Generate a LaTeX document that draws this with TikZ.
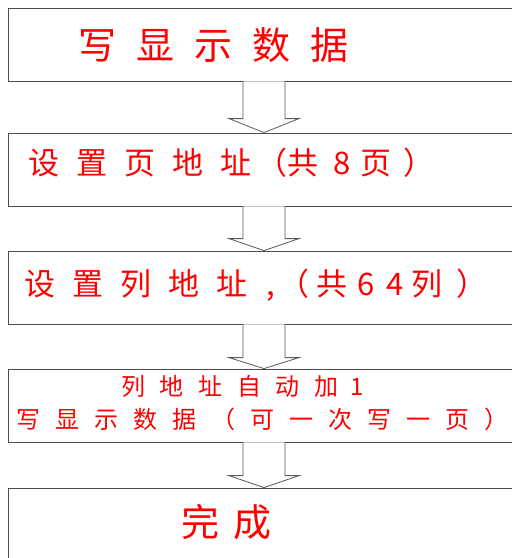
\documentclass[tikz,border=0pt]{standalone}
\usepackage{fontspec}
\newfontfamily\cjk{Noto Sans CJK SC}
\usetikzlibrary{calc}
\newcommand\myg[1]{\hspace{#1pt}}
\tikzset{
  box/.style={draw=black!70, line width=0.8pt, rectangle, minimum width=512pt, inner sep=0pt},
  lbl/.style={anchor=base west, inner sep=0pt, text=red},
  arr/.style={draw=black!65, line width=0.8pt, fill=white, line join=miter},
}
\begin{document}
\begin{tikzpicture}[x=1pt,y=-1pt]
\useasboundingbox (0,0) rectangle (512,558);
\node[box, minimum height=73pt] (b1) at (264,44.5) {};
\node[box, minimum height=73pt] (b2) at (264,169.5) {};
\node[box, minimum height=73pt] (b3) at (264,287.5) {};
\node[box, minimum height=73pt] (b4) at (264,405.5) {};
\node[box, minimum height=110pt] (b5) at (264,543) {};

\node[lbl, font=\cjk\fontsize{38}{40}\selectfont] (t1) at (78,59)
  {写\myg{20}显\myg{20}示\myg{20}数\myg{20}据};
\node[lbl, font=\cjk\fontsize{31}{33}\selectfont] (t2) at (28,174)
  {设\myg{17}置\myg{17}页\myg{17}地\myg{17}址\myg{5}（共\myg{15}8\myg{10}页\myg{12}）};
\node[lbl, font=\cjk\fontsize{31}{33}\selectfont] (t3) at (24,295.5)
  {设\myg{17}置\myg{17}列\myg{17}地\myg{17}址\myg{19},\myg{4}（\myg{7}共\myg{10}6\myg{12}4\myg{7}列\myg{14}）};
\node[lbl, font=\cjk\fontsize{24}{26}\selectfont] (t4a) at (121,395)
  {列\myg{14.7}地\myg{14.7}址\myg{14.7}自\myg{14.7}动\myg{14.7}加\myg{12}1};
\node[lbl, font=\cjk\fontsize{24}{26}\selectfont] (t4b) at (16,428)
  {写\myg{15}显\myg{15}示\myg{15}数\myg{15}据\myg{15}（\myg{15}可\myg{15}一\myg{15}次\myg{15}写\myg{15}一\myg{15}页\myg{15}）};
\node[lbl, font=\cjk\fontsize{38}{40}\selectfont] (t5) at (181,536)
  {完\myg{14}成};

\foreach \a/\b/\h in {b1/b2/14, b2/b3/12, b3/b4/11, b4/b5/12}{
  \draw[arr] ([xshift=-21pt]\a.south) -- ([xshift=-21pt,yshift=\h pt]\b.north)
    -- ([xshift=-35pt,yshift=\h pt]\b.north) -- (\b.north)
    -- ([xshift=35pt,yshift=\h pt]\b.north) -- ([xshift=21pt,yshift=\h pt]\b.north)
    -- ([xshift=21pt]\a.south);
}
\end{tikzpicture}
\end{document}
